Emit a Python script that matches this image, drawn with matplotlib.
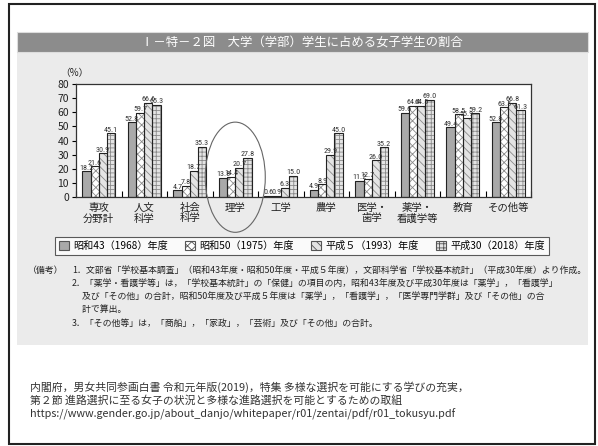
import matplotlib
matplotlib.use("Agg")
import matplotlib.pyplot as plt
import numpy as np
from matplotlib.patches import Rectangle, Ellipse, Patch
from matplotlib import font_manager

plt.rcParams['font.family'] = ['Noto Sans CJK JP', 'DejaVu Sans']

# データ
categories = ["専攻\n分野計", "人文\n科学", "社会\n科学", "理学", "工学", "農学",
              "医学・\n歯学", "薬学・\n看護学等", "教育", "その他等"]
series_names = ["昭和43（1968）年度", "昭和50（1975）年度", "平成５（1993）年度", "平成30（2018）年度"]
s1968 = [18.2, 52.8, 4.7, 13.8, 0.6, 4.9, 11.2, 59.6, 49.4, 52.8]
s1975 = [21.6, 59.7, 7.8, 14.4, 0.9, 8.9, 12.7, 64.4, 58.5, 63.5]
s1993 = [30.9, 66.6, 18.7, 20.7, 6.3, 29.9, 26.0, 64.5, 55.9, 66.8]
s2018 = [45.1, 65.3, 35.3, 27.8, 15.0, 45.0, 35.2, 69.0, 59.2, 61.3]
yticks = [0, 10, 20, 30, 40, 50, 60, 70, 80]

title = "Ⅰ－特－２図　大学（学部）学生に占める女子学生の割合"
notes = [
    "1．文部省「学校基本調査」（昭和43年度・昭和50年度・平成５年度），文部科学省「学校基本統計」（平成30年度）より作成。",
    "2．「薬学・看護学等」は，「学校基本統計」の「保健」の項目の内，昭和43年度及び平成30年度は「薬学」，「看護学」",
    "     及び「その他」の合計，昭和50年度及び平成５年度は「薬学」，「看護学」，「医学専門学群」及び「その他」の合",
    "     計で算出。",
    "3．「その他等」は，「商船」，「家政」，「芸術」及び「その他」の合計。",
]
source = [
    "内閣府，男女共同参画白書 令和元年版(2019)，特集 多様な選択を可能にする学びの充実，",
    "第２節 進路選択に至る女子の状況と多様な進路選択を可能とするための取組",
    "https://www.gender.go.jp/about_danjo/whitepaper/r01/zentai/pdf/r01_tokusyu.pdf",
]

# 数値ラベル用の細いフォント（あるものを使う）
names = {f.name for f in font_manager.fontManager.ttflist}
narrow = "DejaVu Sans"
for cand in ["Liberation Sans Narrow", "Roboto Condensed", "Arial Narrow", "PT Sans Narrow",
             "Archivo Narrow", "Open Sans Condensed", "Encode Sans Condensed", "Barlow Condensed",
             "IBM Plex Sans Condensed", "Fira Sans Condensed", "Asap Condensed", "Pathway Gothic One"]:
    if cand in names:
        narrow = cand
        break

W, H = 598, 446
fig = plt.figure(figsize=(W / 100, H / 100), dpi=100)
fig.patch.set_facecolor("white")

def fx(px):
    return px / W

def fy(py):
    return 1 - py / H

# 外枠・背景パネル・タイトル帯
fig.patches.append(Rectangle((fx(9), fy(444)), fx(586), 440 / H, transform=fig.transFigure,
                             facecolor="white", edgecolor="#222222", lw=1.5, zorder=-3))
fig.patches.append(Rectangle((fx(17), fy(345)), fx(571), 313 / H, transform=fig.transFigure,
                             facecolor="#ebebeb", edgecolor="none", zorder=-2))
fig.patches.append(Rectangle((fx(17), fy(52)), fx(571), 20 / H, transform=fig.transFigure,
                             facecolor="#8c8c8c", edgecolor="#dddddd", lw=0.8, zorder=-1))
fig.text(fx(302), fy(43), title, color="white", fontsize=8.9, ha="center", va="center")

ax = fig.add_axes([fx(76), fy(197), fx(455), 113 / H])
ax.set_facecolor("white")

x = np.arange(len(categories))
bw = 0.18
styles = [
    dict(face="#a9a9a9", hatch=None),
    dict(face="white", hatch="xxxx"),
    dict(face="#e4e4e4", hatch="\\\\\\\\"),
    dict(face="#e4e4e4", hatch="++++"),
]
all_series = [s1968, s1975, s1993, s2018]
plt.rcParams['hatch.linewidth'] = 0.6
handles = []
for i, (vals, st) in enumerate(zip(all_series, styles)):
    pos = x + (i - 1.5) * bw
    ax.bar(pos, vals, bw, color=st["face"], hatch=st["hatch"], edgecolor="#8a8a8a", lw=0, zorder=2)
    ax.bar(pos, vals, bw, fill=False, edgecolor="#222222", lw=0.8, zorder=3)
    for p, v in zip(pos, vals):
        ax.text(p, v + 0.5, f"{v:.1f}", ha="center", va="bottom", fontsize=5.8,
                family=narrow, color="#333333", zorder=4)
    handles.append(Patch(facecolor=st["face"], hatch=st["hatch"], edgecolor="#555555", lw=0.8))

ax.set_xlim(-0.5, len(categories) - 0.5)
ax.set_ylim(0, 80)
ax.set_yticks(yticks)
ax.set_yticklabels([str(t) for t in yticks], fontsize=7.5, color="#222222")
ax.tick_params(axis="y", length=3, width=0.8, pad=2)
ax.set_xticks(x)
ax.set_xticklabels(categories, fontsize=7.5, color="#222222", linespacing=1.1)
ax.tick_params(axis="x", length=0, pad=4)
ax.set_xticks(np.arange(-0.5, len(categories), 1.0), minor=True)
ax.tick_params(axis="x", which="minor", direction="in", length=4, width=0.8)
for sp in ax.spines.values():
    sp.set_color("#333333")
    sp.set_linewidth(0.9)

fig.text(fx(60), fy(73), "（%）", fontsize=7, color="#222222", va="center")

# 理学を囲む楕円
ax.add_patch(Ellipse((3.0, 14.0), 1.32, 78, fill=False, edgecolor="#666666", lw=0.8,
                     clip_on=False, zorder=5))

# 凡例
leg = fig.legend(handles, series_names, loc="center", ncol=4,
                 bbox_to_anchor=(fx(302), fy(246)), fontsize=7.3, frameon=True,
                 fancybox=False, edgecolor="#333333", handlelength=1.0, handleheight=0.9,
                 handletextpad=0.4, columnspacing=1.7, borderpad=0.4)
leg.get_frame().set_linewidth(0.8)

# 備考
fig.text(fx(28), fy(270), "（備考）", fontsize=6.4, color="#222222", va="center")
for k, line in enumerate(notes):
    yy = [270, 283, 296, 309, 323][k]
    fig.text(fx(72), fy(yy), line, fontsize=6.4, color="#222222", va="center")

# 出典
for k, line in enumerate(source):
    fig.text(fx(30), fy(387 + k * 13.5), line, fontsize=7.8, color="#333333", va="center")

fig.savefig("out.png", dpi=100)
